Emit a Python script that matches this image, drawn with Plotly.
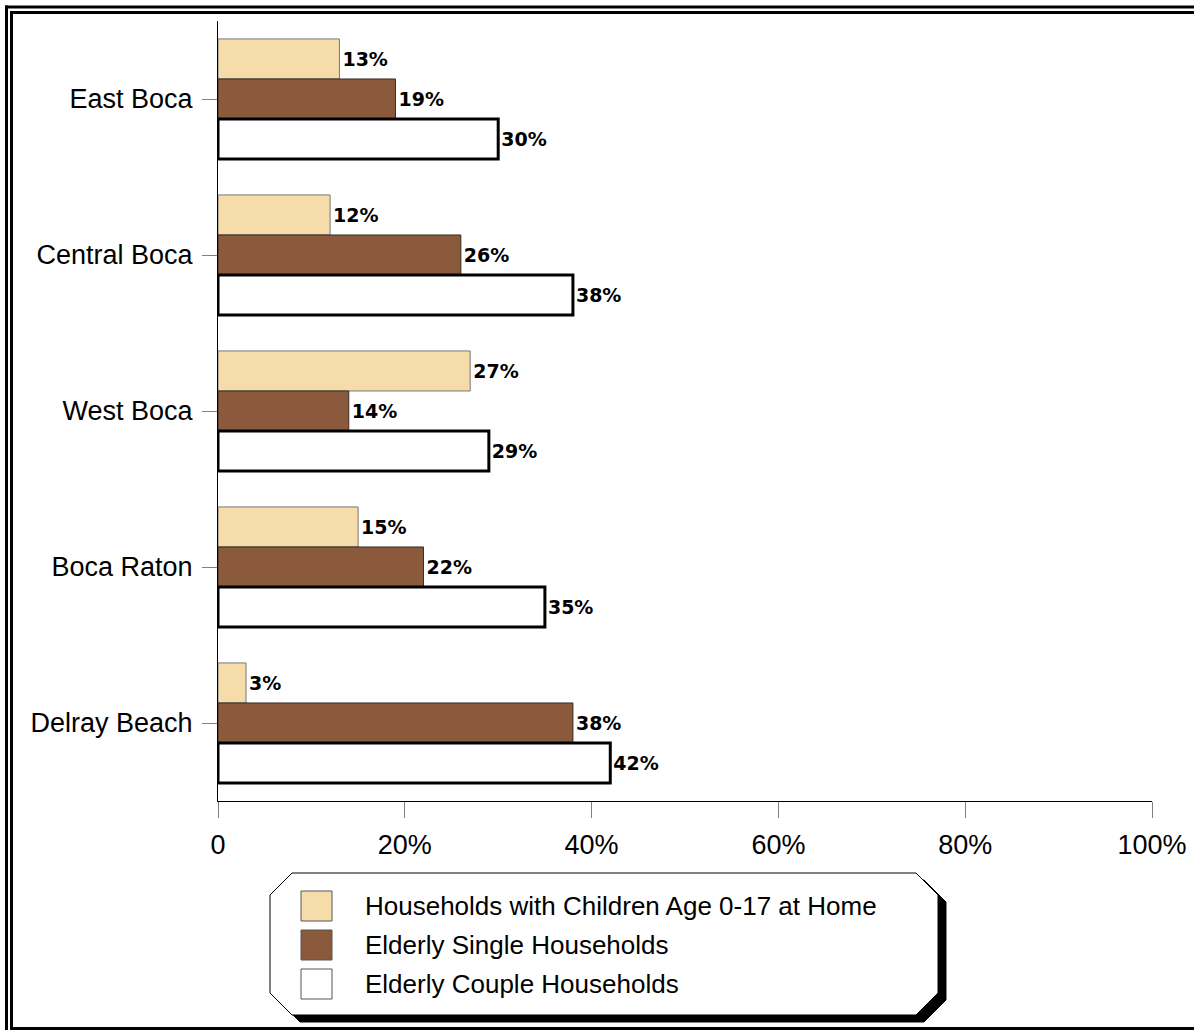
import plotly.graph_objects as go

categories = ["East Boca", "Central Boca", "West Boca", "Boca Raton", "Delray Beach"]
children = [13, 12, 27, 15, 3]
elderly_single = [19, 26, 14, 22, 38]
elderly_couple = [30, 38, 29, 35, 42]
series_names = ["Households with Children Age 0-17 at Home",
                "Elderly Single Households",
                "Elderly Couple Households"]
x_ticks = [0, 20, 40, 60, 80, 100]
x_ticktext = ["0", "20%", "40%", "60%", "80%", "100%"]

W, H = 1194, 1030
L, R, T, B = 218, 42, 21, 229
PW, PH = W - L - R, H - T - B

def px(x):
    return (x - L) / PW

def py(y):
    return (H - B - y) / PH

fills = ["#F5DCA8", "#8B5A3C", "#FFFFFF"]
lines = [("#777777", 1), ("#3a2a20", 1), ("#000000", 3)]
label_font = dict(family="DejaVu Sans", size=19, color="#000000", weight="bold")

fig = go.Figure()
for name, vals, fc, (lc, lw) in zip(series_names, [children, elderly_single, elderly_couple], fills, lines):
    fig.add_trace(go.Bar(
        y=categories, x=vals, name=name, orientation="h",
        marker=dict(color=fc, line=dict(color=lc, width=lw)),
        text=[f"{v}%" for v in vals], textposition="outside",
        textfont=label_font, cliponaxis=False, showlegend=False,
    ))

shapes = []

def hline(x0, x1, y):
    shapes.append(dict(type="line", xref="paper", yref="paper",
                       x0=px(x0), x1=px(x1), y0=py(y), y1=py(y),
                       line=dict(color="black", width=3), layer="above"))

def vline(x, y0, y1):
    shapes.append(dict(type="line", xref="paper", yref="paper",
                       x0=px(x), x1=px(x), y0=py(y0), y1=py(y1),
                       line=dict(color="black", width=3), layer="above"))

# double border (right and outer bottom edges fall outside the picture)
hline(5, W, 7)
vline(6.5, 5.5, H)
hline(10, W, 12.5)
vline(11.5, 11, 1029.5)
hline(10, W, 1028.5)

# legend box with bevelled corners and shadow
def bevel_path(x0, y0, x1, y1, c):
    pts = [(x0 + c, y0), (x1 - c, y0), (x1, y0 + c), (x1, y1 - c),
           (x1 - c, y1), (x0 + c, y1), (x0, y1 - c), (x0, y0 + c)]
    return "M " + " L ".join(f"{px(a):.5f},{py(b):.5f}" for a, b in pts) + " Z"

bx0, by0, bx1, by1, cut = 270, 873, 938, 1015, 22
shapes.append(dict(type="path", xref="paper", yref="paper",
                   path=bevel_path(bx0 + 8, by0 + 7, bx1 + 8, by1 + 7, cut),
                   fillcolor="black", line=dict(color="black", width=1)))
shapes.append(dict(type="path", xref="paper", yref="paper",
                   path=bevel_path(bx0, by0, bx1, by1, cut),
                   fillcolor="white", line=dict(color="black", width=1)))

annotations = []
sw_y = [906, 945, 984]
for name, fc, yc in zip(series_names, fills, sw_y):
    shapes.append(dict(type="rect", xref="paper", yref="paper",
                       x0=px(301), x1=px(332), y0=py(yc - 15), y1=py(yc + 15),
                       fillcolor=fc, line=dict(color="#555555", width=1)))
    annotations.append(dict(xref="paper", yref="paper", x=px(363), y=py(yc),
                            xanchor="left", yanchor="middle", showarrow=False,
                            text=name, font=dict(family="Liberation Sans, Arial", size=26, color="black")))

fig.update_layout(
    width=W, height=H,
    margin=dict(l=L, r=R, t=T, b=B, pad=0, autoexpand=False),
    paper_bgcolor="white", plot_bgcolor="white",
    barmode="group", bargap=0.23, bargroupgap=0,
    font=dict(family="Liberation Sans, Arial", size=27, color="black"),
    shapes=shapes, annotations=annotations,
    showlegend=False,
    xaxis=dict(range=[0, 100], tickvals=x_ticks, ticktext=x_ticktext, automargin=False,
               showgrid=False, zeroline=False, showline=True, linecolor="black", linewidth=1,
               ticks="outside", ticklen=16, tickcolor="#808080", tickwidth=1,
               tickfont=dict(size=27), ticklabelstandoff=4),
    yaxis=dict(autorange="reversed", automargin=False, showgrid=False, zeroline=False,
               showline=True, linecolor="black", linewidth=1,
               ticks="outside", ticklen=15, tickcolor="#808080", tickwidth=1,
               tickfont=dict(size=27), ticklabelstandoff=4),
)

fig.write_html("out.html", config={"displayModeBar": False},
               post_script="document.body.style.margin='0';document.body.style.overflow='hidden';")
